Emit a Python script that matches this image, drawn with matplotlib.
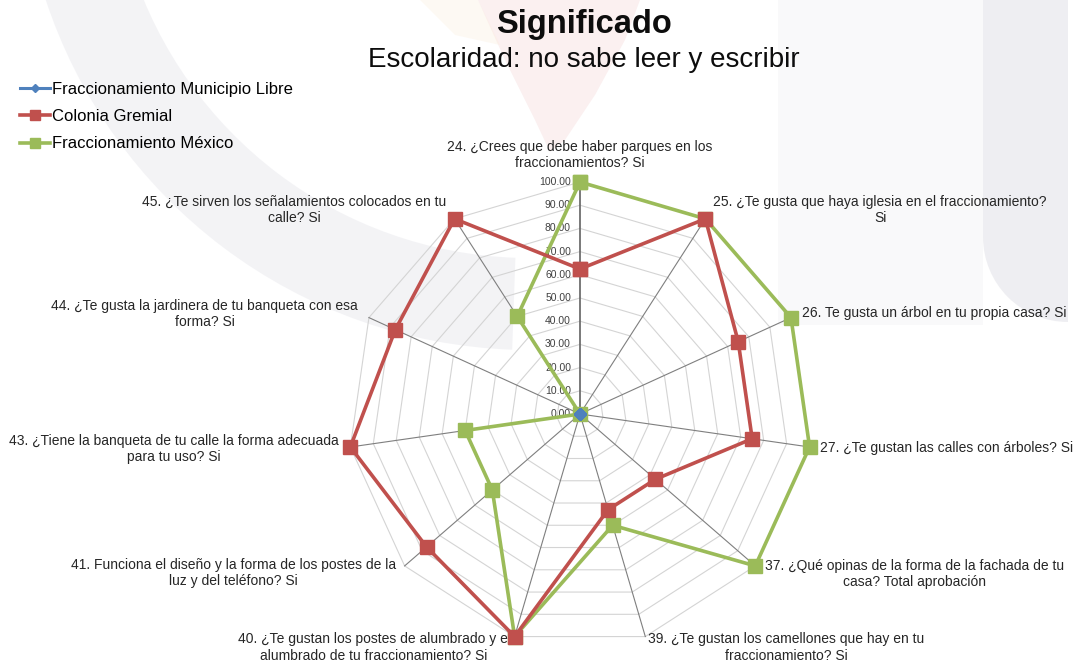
import matplotlib
matplotlib.use('Agg')
import matplotlib.pyplot as plt
from matplotlib.patches import Wedge, Polygon, Rectangle
import numpy as np

plt.rcParams['font.family'] = ['Liberation Sans', 'DejaVu Sans']

# --- data ---
categories = [
    '24. ¿Crees que debe haber parques en los\nfraccionamientos? Si',
    '25. ¿Te gusta que haya iglesia en el fraccionamiento?\nSi',
    '26. Te gusta un árbol en tu propia casa? Si',
    '27. ¿Te gustan las calles con árboles? Si',
    '37. ¿Qué opinas de la forma de la fachada de tu\ncasa? Total aprobación',
    '39. ¿Te gustan los camellones que hay en tu\nfraccionamiento? Si',
    '40. ¿Te gustan los postes de alumbrado y el\nalumbrado de tu fraccionamiento? Si',
    '41. Funciona el diseño y la forma de los postes de la\nluz y del teléfono? Si',
    '43. ¿Tiene la banqueta de tu calle la forma adecuada\npara tu uso? Si',
    '44. ¿Te gusta la jardinera de tu banqueta con esa\nforma? Si',
    '45. ¿Te sirven los señalamientos colocados en tu\ncalle? Si',
]
municipio_libre = [0, 0, 0, 0, 0, 0, 0, 0, 0, 0, 0]
colonia_gremial = [62.5, 100, 75, 75, 43, 43, 100, 87.5, 100, 87.5, 100]
fracc_mexico = [100, 100, 100, 100, 100, 50, 100, 50, 50, 0, 50]
series_names = ['Fraccionamiento Municipio Libre', 'Colonia Gremial',
                'Fraccionamiento México']
radial_ticks = [0, 10, 20, 30, 40, 50, 60, 70, 80, 90, 100]

# label placement: (dx px, dy px, ha)
label_pos = [(0, 12, 'center'), (8, 9, 'left'), (11, 5, 'left'),
             (10, -1, 'left'), (10, -8, 'left'), (3, -11, 'left'),
             (-4, -11, 'right'), (-9, -7, 'right'), (-12, -2, 'right'),
             (-11, 4, 'right'), (-8, 9, 'right')]

n = len(categories)
theta = np.linspace(0, 2 * np.pi, n, endpoint=False)
theta_c = np.append(theta, theta[0])


def closed(v):
    return np.append(v, v[0])


fig = plt.figure(figsize=(10.8, 6.62), dpi=100)

# --- faint background watermark ---
bg = fig.add_axes([0, 0, 1, 1], zorder=-5)
bg.set_xlim(0, 1080)
bg.set_ylim(662, 0)
bg.axis('off')
bg.add_patch(Wedge((530, -160), 510, 92, 162, width=92,
                   color='#e8e8ed', alpha=0.5, lw=0))
bg.add_patch(Rectangle((778, 0), 205, 325, color='#f5f5f7', alpha=0.5, lw=0))
bg.add_patch(Rectangle((983, 0), 85, 237, color='#e6e6eb', alpha=0.65, lw=0))
bg.add_patch(Wedge((1068, 237), 85, 90, 180, color='#e6e6eb', alpha=0.65, lw=0))
bg.add_patch(Polygon([(478, 0), (640, 0), (625, 40), (595, 95), (565, 140),
                      (550, 152), (535, 120), (505, 60)], closed=True,
                     color='#f5dada', alpha=0.4, lw=0))
bg.add_patch(Polygon([(420, 0), (478, 0), (500, 45), (455, 35)], closed=True,
                     color='#fbeedd', alpha=0.35, lw=0))

ax = fig.add_axes([0.3222, 0.0242, 0.4296, 0.7009], projection='polar')
ax.set_theta_zero_location('N')
ax.set_theta_direction(-1)
ax.set_ylim(0, 100)
ax.grid(False)
ax.spines['polar'].set_visible(False)
ax.set_xticks([])
ax.set_yticks([])
ax.patch.set_alpha(0)

# polygon grid + spokes
for r in radial_ticks[1:]:
    ax.plot(theta_c, [r] * (n + 1), color='#d4d4d4', lw=0.8, zorder=1,
            clip_on=False)
for i, t in enumerate(theta):
    ax.plot([t, t], [0, 100], color='#7f7f7f' if i else '#6e6e6e',
            lw=0.8 if i else 1.3, zorder=1.5, clip_on=False)
for r in radial_ticks:
    ax.annotate(f'{r:.2f}', xy=(0, r), xytext=(-9, 0), textcoords='offset pixels',
                ha='right', va='center', fontsize=7.5, color='#404040')

colors = ['#4f81bd', '#c0504d', '#9bbb59']
series = [municipio_libre, colonia_gremial, fracc_mexico]
handles = []
for name, vals, c in zip(series_names[::-1], series[::-1], colors[::-1]):
    if c == '#4f81bd':
        h, = ax.plot(theta_c, closed(vals), color=c, lw=2.2, marker='D',
                     markersize=6, zorder=5, clip_on=False, label=name)
    else:
        h, = ax.plot(theta_c, closed(vals), color=c, lw=2.6, marker='s',
                     markersize=9.5, zorder=4, clip_on=False, label=name)
    handles.append(h)
handles = handles[::-1]

for t, lab, (dx, dy, ha) in zip(theta, categories, label_pos):
    ax.annotate(lab, xy=(t, 100), xytext=(dx, dy), textcoords='offset pixels',
                ha=ha, va='bottom' if ha == 'center' else 'center',
                multialignment='center', fontsize=10, color='#262626',
                linespacing=1.2)

fig.text(0.541, 0.963, 'Significado', ha='center', va='center',
         fontsize=23.5, fontweight='bold', color='#0d0d0d')
fig.text(0.541, 0.910, 'Escolaridad: no sabe leer y escribir', ha='center',
         va='center', fontsize=20, color='#0d0d0d')

fig.legend(handles=handles, labels=series_names, loc='upper left',
           bbox_to_anchor=(0.0185, 0.876), frameon=False, fontsize=12,
           handlelength=1.8, handletextpad=0.12, labelspacing=0.73,
           borderaxespad=0, borderpad=0, markerscale=0.75)

fig.savefig('out.png', dpi=100, facecolor='white')
